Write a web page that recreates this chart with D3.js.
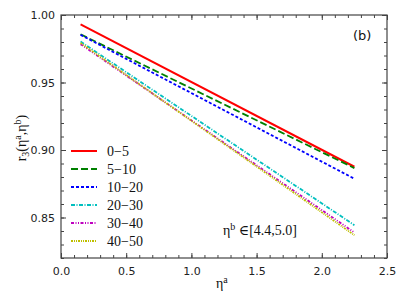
<!DOCTYPE html>
<html>
<head>
<meta charset="utf-8">
<script src="https://cdn.jsdelivr.net/npm/d3@7"></script>
<style>
  body { margin: 0; background: #fff; }
  svg { display: block; }
  .tick text { font-family: "DejaVu Sans", sans-serif; font-size: 11px; fill: #222; }
</style>
</head>
<body>
<svg id="chart" width="407" height="305"></svg>
<script>
// data
const etaA = [0.15, 2.25];
const r0_5 = [0.9931, 0.8876];
const r5_10 = [0.9857, 0.8866];
const r10_20 = [0.9853, 0.8787];
const r20_30 = [0.9803, 0.8443];
const r30_40 = [0.9784, 0.8389];
const r40_50 = [0.9793, 0.8369];
const names = ['0\u22125', '5\u221210', '10\u221220', '20\u221230', '30\u221240', '40\u221250'];
const xTicks = [0.0, 0.5, 1.0, 1.5, 2.0, 2.5];
const yTicks = [0.85, 0.90, 0.95, 1.00];

const seriesValues = [r0_5, r5_10, r10_20, r20_30, r30_40, r40_50];
const colors = ['#ff0000', '#008000', '#0000ff', '#00bfbf', '#bf00bf', '#bfbf00'];
const dashes = ['none', '7,3', '3,2', '4,1.5,1,1.5', '3,1.5,1,1.5,1,1.5', '2,1,1,1,1,1'];
const SERIF = '"Liberation Serif", "Times New Roman", "DejaVu Serif", serif';

const svg = d3.select('#chart');
const margin = {top:15, right:20, bottom:47, left:61};
const W = 407, H = 305;
const width = W - margin.left - margin.right;
const height = H - margin.top - margin.bottom;

const g = svg.append('g').attr('transform', `translate(${margin.left},${margin.top})`);

const x = d3.scaleLinear().domain([0, 2.5]).range([0, width]);
const y = d3.scaleLinear().domain([0.82, 1.00]).range([height, 0]);

const xMinor = d3.range(0, 2.501, 0.1);
const yMinor = d3.range(0.82, 1.0001, 0.01);

// minor ticks (inward, all sides)
g.append('g').attr('transform', `translate(0,${height})`)
  .call(d3.axisBottom(x).tickValues(xMinor).tickSize(-3).tickFormat(''))
  .call(a => a.select('.domain').remove());
g.append('g')
  .call(d3.axisTop(x).tickValues(xMinor).tickSize(-3).tickFormat(''))
  .call(a => a.select('.domain').remove());
g.append('g')
  .call(d3.axisLeft(y).tickValues(yMinor).tickSize(-3).tickFormat(''))
  .call(a => a.select('.domain').remove());
g.append('g').attr('transform', `translate(${width},0)`)
  .call(d3.axisRight(y).tickValues(yMinor).tickSize(-3).tickFormat(''))
  .call(a => a.select('.domain').remove());

// major ticks
g.append('g').attr('transform', `translate(0,${height})`)
  .call(d3.axisBottom(x).tickValues(xTicks).tickSize(-5).tickPadding(9).tickFormat(d3.format('.1f')))
  .call(a => a.select('.domain').remove());
g.append('g')
  .call(d3.axisTop(x).tickValues(xTicks).tickSize(-5).tickFormat(''))
  .call(a => a.select('.domain').remove());
g.append('g')
  .call(d3.axisLeft(y).tickValues(yTicks).tickSize(-5).tickPadding(6).tickFormat(d3.format('.2f')))
  .call(a => a.select('.domain').remove());
g.append('g').attr('transform', `translate(${width},0)`)
  .call(d3.axisRight(y).tickValues(yTicks).tickSize(-5).tickFormat(''))
  .call(a => a.select('.domain').remove());

g.selectAll('.tick line').attr('stroke', '#444');

// frame
g.append('rect').attr('width', width).attr('height', height)
  .attr('fill', 'none').attr('stroke', '#444').attr('stroke-width', 1.2);

// lines
const line = d3.line().x((d, i) => x(etaA[i])).y(d => y(d));
g.selectAll('.series').data(seriesValues).join('path')
  .attr('class', 'series')
  .attr('d', d => line(d))
  .attr('fill', 'none')
  .attr('stroke', (d, i) => colors[i])
  .attr('stroke-width', (d, i) => i === 0 ? 2 : 1.8)
  .attr('stroke-dasharray', (d, i) => dashes[i]);

// legend
const leg = g.append('g').attr('transform', 'translate(10,136)');
const rows = leg.selectAll('g').data(names).join('g')
  .attr('transform', (d, i) => `translate(0,${i * 18})`);
rows.append('line').attr('x1', 0).attr('x2', 26).attr('y1', 0).attr('y2', 0)
  .attr('stroke', (d, i) => colors[i])
  .attr('stroke-width', (d, i) => i === 0 ? 2 : 1.8)
  .attr('stroke-dasharray', (d, i) => dashes[i]);
rows.append('text').attr('x', 36).attr('y', 0).attr('dy', '0.35em')
  .style('font-family', SERIF).style('font-size', '14px').attr('fill', '#111')
  .text(d => d);

// annotations
g.append('text').attr('x', x(2.38)).attr('y', 25)
  .attr('text-anchor', 'end')
  .style('font-family', '"DejaVu Sans", sans-serif').style('font-size', '13px').attr('fill', '#111')
  .text('(b)');

const ann = g.append('text').attr('x', 162).attr('y', 220)
  .style('font-family', SERIF).style('font-size', '14px').attr('fill', '#111');
ann.append('tspan').text('\u03b7');
ann.append('tspan').attr('dy', -5).style('font-size', '10px').text('b');
ann.append('tspan').attr('dy', 5).text(' \u2208[4.4,5.0]');

// axis labels
const xl = svg.append('text').attr('x', 216).attr('y', 288)
  .style('font-family', SERIF).style('font-size', '14px').attr('fill', '#111');
xl.append('tspan').text('\u03b7');
xl.append('tspan').attr('dy', -5).style('font-size', '10px').text('a');

const yl = svg.append('text')
  .attr('transform', 'translate(26,138) rotate(-90)')
  .attr('text-anchor', 'middle')
  .style('font-family', SERIF).style('font-size', '14px').attr('fill', '#111');
yl.append('tspan').text('r');
yl.append('tspan').attr('dy', 3).style('font-size', '10px').text('3');
yl.append('tspan').attr('dy', -3).text('(\u03b7');
yl.append('tspan').attr('dy', -5).style('font-size', '10px').text('a');
yl.append('tspan').attr('dy', 5).text(',\u03b7');
yl.append('tspan').attr('dy', -5).style('font-size', '10px').text('b');
yl.append('tspan').attr('dy', 5).text(')');
</script>
</body>
</html>
